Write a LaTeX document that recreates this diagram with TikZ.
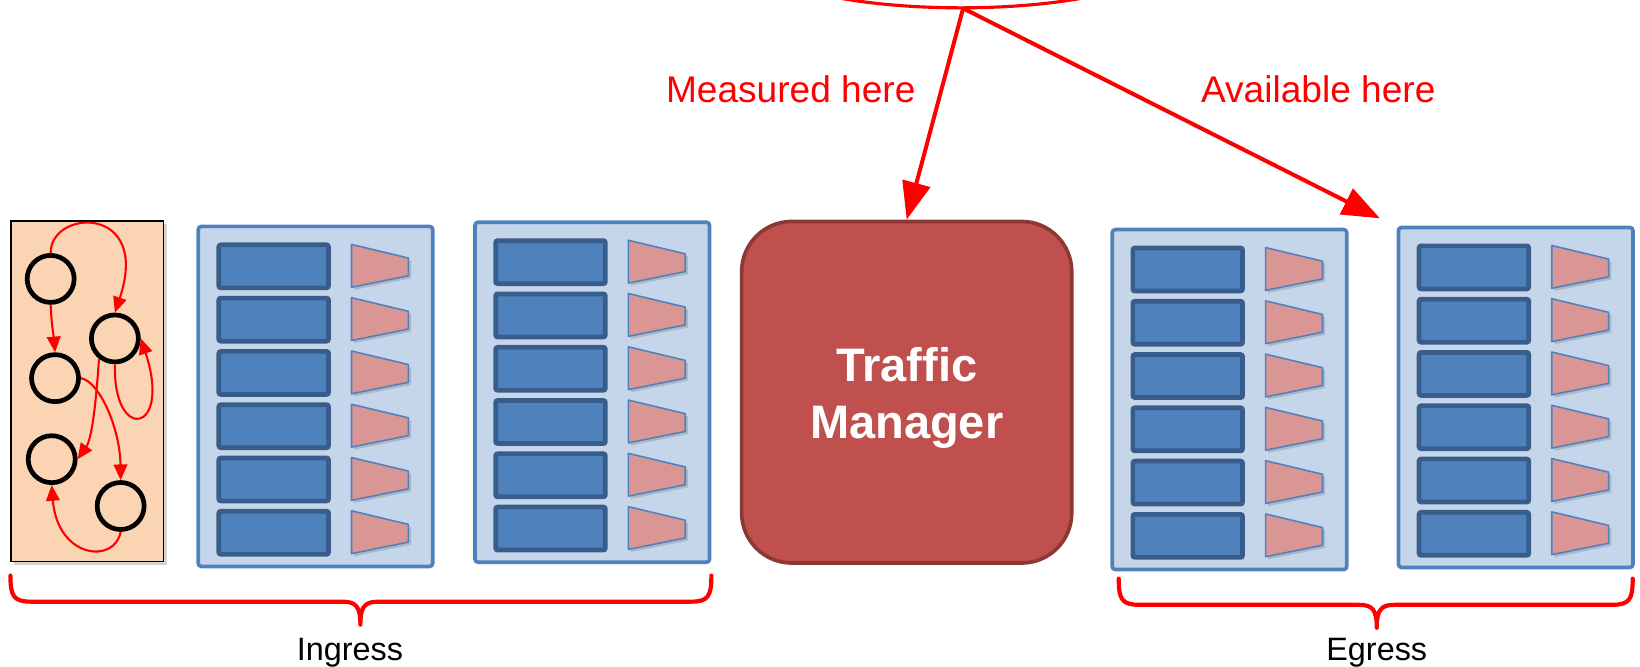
\documentclass[tikz,border=0pt]{standalone}
\usepackage{fontspec}
\setmainfont{Liberation Sans}
\usetikzlibrary{arrows.meta,shadows}
\definecolor{peach}{HTML}{FBD4B4}
\definecolor{boxfill}{HTML}{C5D5EA}
\definecolor{boxline}{HTML}{4F81BD}
\definecolor{qfill}{HTML}{4F81BD}
\definecolor{qline}{HTML}{385D8A}
\definecolor{shfill}{HTML}{D99694}
\definecolor{tmfill}{HTML}{C0504D}
\definecolor{tmline}{HTML}{8C3836}
\tikzset{
  fsmbox/.style={draw=black, line width=1.3pt, fill=peach, minimum width=146pt, minimum height=326pt, inner sep=0pt,
    drop shadow={opacity=0.35, shadow xshift=3pt, shadow yshift=-3pt}},
  st/.style={circle, draw=black, line width=4.5pt, minimum size=45pt, inner sep=0pt},
  smarrow/.style={draw=red, line width=2pt, -{Triangle[length=15pt,width=13pt]}},
  bigarrow/.style={draw=red, line width=3.8pt, -{Triangle[length=36pt,width=27pt]}},
  outerbox/.style={draw=boxline, fill=boxfill, line width=3.5pt, rounded corners=3pt,
    minimum width=224.5pt, minimum height=325.5pt, inner sep=0pt},
  queue/.style={draw=qline, fill=qfill, line width=4.5pt, rounded corners=2pt},
  shaper/.style={draw=boxline, fill=shfill, line width=1.5pt, line join=round,
    drop shadow={opacity=0.35, shadow xshift=2.5pt, shadow yshift=-2.5pt}},
  tmbox/.style={draw=tmline, fill=tmfill, line width=3.5pt, rounded corners=48pt,
    minimum width=316pt, minimum height=327pt, inner sep=0pt},
  tmlabel/.style={text=white, font=\bfseries\fontsize{45}{55}\selectfont, align=center, inner sep=0pt},
  redlabel/.style={text=red, font=\fontsize{35.5}{40}\selectfont, inner sep=0pt, anchor=base},
  blacklabel/.style={text=black, font=\fontsize{31}{36}\selectfont, inner sep=0pt, anchor=base},
  brace/.style={draw=red, line width=4pt, line join=round, line cap=round},
  pipeline/.pic={
    \node[outerbox] (-box) at (114,164.5) {};
    \foreach \i in {0,...,5} {
      \draw[queue] (21.5,19.4+51*\i) rectangle (126.5,60.6+51*\i);
      \draw[shaper] (148.5,19+51*\i) -- (203,32+51*\i) -- (203,49+51*\i) -- (148.5,60+51*\i) -- cycle;
    }
  }
}
\begin{document}
\begin{tikzpicture}[x=1pt,y=-1pt]
\useasboundingbox (0,0) rectangle (1570,638.5);
\clip (0,0) rectangle (1570,638.5);
% top ellipse
\draw[red, line width=3pt] (920,-42.5) ellipse [x radius=200, y radius=50];
\coordinate (src) at (922,8);
% state machine
\node[fsmbox] (fsm) at (83.5,374.5) {};
\node[st] (c1) at (48.5,267) {};
\node[st] (c2) at (110,324) {};
\node[st] (c3) at (52.7,362) {};
\node[st] (c4) at (49.5,439.6) {};
\node[st] (c5) at (115.5,484.4) {};
\draw[smarrow] (c1.north) .. controls (48,200) and (145,195) .. (c2.north);
\draw[smarrow] (c1.south) to[out=-88,in=95] (c3.north);
\draw[smarrow] (c2.south) .. controls (108,425) and (165,415) .. (c2.east);
\draw[smarrow] (c2.-128) .. controls (92,385) and (88,420) .. (c4.east);
\draw[smarrow] (c3.east) .. controls (95,365) and (115,410) .. (c5.north);
\draw[smarrow] (c5.south) .. controls (110,540) and (55,535) .. (c4.south);
% pipelines
\pic (ingA) at (188,215) {pipeline};
\pic (ingB) at (453,211) {pipeline};
\pic (egA) at (1063,218) {pipeline};
\pic (egB) at (1337,216) {pipeline};
% traffic manager
\node[tmbox] (tm) at (868,375.5) {};
\node[tmlabel] (tmtext) at (868,381) {Traffic\\Manager};
% arrows from ellipse
\coordinate (egin) at (1321,209);
\draw[bigarrow] (src) -- (tm.north);
\draw[bigarrow] (src) -- (egin);
\node[redlabel] (meas) at (757,98) {Measured here};
\node[redlabel] (avail) at (1262,98) {Available here};
% braces
\draw[brace] (10,551) .. controls (10,571) and (13,576) .. (30,576) -- (328,576) .. controls (341,576) and (345,581) .. (345,598) .. controls (345,581) and (349,576) .. (362,576) -- (661,576) .. controls (678,576) and (681,571) .. (681,551);
\draw[brace] (1071,554) .. controls (1071,574) and (1074,579) .. (1091,579) -- (1301,579) .. controls (1314,579) and (1318,584) .. (1318,601) .. controls (1318,584) and (1322,579) .. (1335,579) -- (1543,579) .. controls (1560,579) and (1563,574) .. (1563,554);
\node[blacklabel] (ing) at (335,632) {Ingress};
\node[blacklabel] (eg) at (1318,632) {Egress};
\end{tikzpicture}
\end{document}
